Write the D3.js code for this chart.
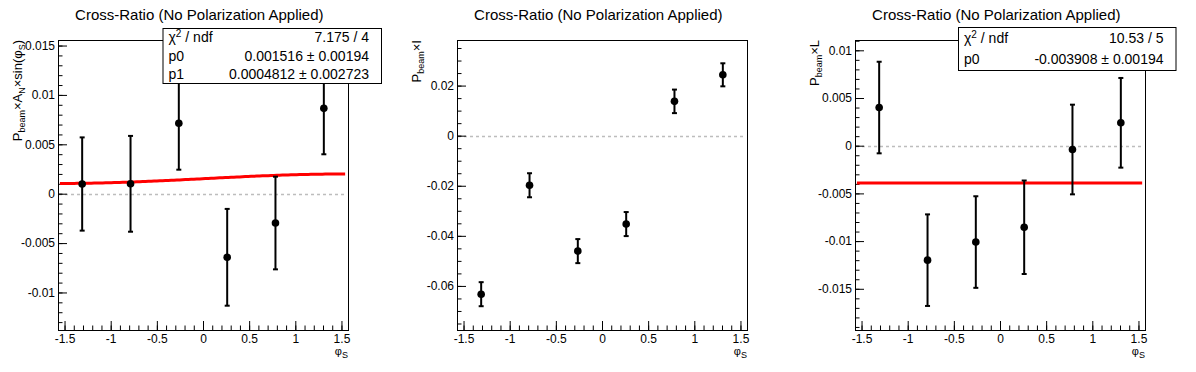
<!DOCTYPE html>
<html>
<head>
<meta charset="utf-8">
<script src="https://cdn.jsdelivr.net/npm/d3@7"></script>
<style>
body { margin: 0; background: #fff; }
svg { display: block; }
text { font-family: "Liberation Sans", Arial, Helvetica, sans-serif; fill: #000; }
</style>
</head>
<body>
<svg id="chart" width="1196" height="372"></svg>
<script>

// bin centres in phi_S
var phiS = [-1.309, -0.785, -0.262, 0.262, 0.785, 1.309];

// P_beam x A_N x sin(phi_S)
var anVal = [0.00098, 0.00100, 0.00713, -0.00644, -0.00297, 0.00864];
var anErr = [0.00472, 0.00485, 0.00470, 0.00490, 0.00469, 0.00465];

// P_beam x I
var iVal = [-0.0633, -0.0198, -0.0461, -0.0353, 0.0137, 0.0243];
var iErr = [0.0048, 0.0048, 0.0048, 0.0048, 0.0047, 0.0046];

// P_beam x L
var lVal = [0.0040, -0.0120, -0.0101, -0.00855, -0.0004, 0.0024];
var lErr = [0.0048, 0.0048, 0.0048, 0.0049, 0.0047, 0.0047];

// fit results
var fitAN = {p0: 0.001516, p1: 0.0004812};
var fitL = {p0: -0.003908};

var xRange = [-Math.PI / 2, Math.PI / 2];
var xMajor = [-1.5, -1, -0.5, 0, 0.5, 1, 1.5];

var yRange1 = [-0.0138, 0.01556];
var yMajor1 = [-0.01, -0.005, 0, 0.005, 0.01, 0.015];
var yRange2 = [-0.0776, 0.0382];
var yMajor2 = [-0.06, -0.04, -0.02, 0, 0.02];
var yRange3 = [-0.01932, 0.01108];
var yMajor3 = [-0.015, -0.01, -0.005, 0, 0.005, 0.01];

var titleText = "Cross-Ratio (No Polarization Applied)";

var panels = [
	{vals: anVal, errs: anErr, yRange: yRange1, yMajor: yMajor1, yMinorStep: 0.001,
	 ylabel: [["P"], ["beam", 1], ["\u00d7A"], ["N", 1], ["\u00d7sin(\u03c6"], ["S", 1], [")"]],
	 fit: function(x) { return fitAN.p0 + fitAN.p1 * Math.sin(x); },
	 stats: [["7.175 / 4"], ["p0", "0.001516 \u00b1 0.00194"], ["p1", "0.0004812 \u00b1 0.002723"]],
	 box: {x: 162.5, y: 28, w: 218.5, h: 55}},
	{vals: iVal, errs: iErr, yRange: yRange2, yMajor: yMajor2, yMinorStep: 0.005,
	 ylabel: [["P"], ["beam", 1], ["\u00d7I"]],
	 fit: null, stats: null},
	{vals: lVal, errs: lErr, yRange: yRange3, yMajor: yMajor3, yMinorStep: 0.001,
	 ylabel: [["P"], ["beam", 1], ["\u00d7L"]],
	 fit: function(x) { return fitL.p0; },
	 stats: [["10.53 / 5"], ["p0", "-0.003908 \u00b1 0.00194"]],
	 box: {x: 161, y: 27, w: 217.5, h: 43}}
];

var svg = d3.select("#chart");
var panelW = 1196 / 3;
var fLeft = 58, fRight = 348, fTop = 40, fBottom = 330;

function fmt(v) {
	var s = String(+v.toFixed(6));
	return s === "-0" ? "0" : s;
}

function range(a, b, step) {
	var out = [];
	var n0 = Math.ceil(a / step - 1e-6), n1 = Math.floor(b / step + 1e-6);
	for (var n = n0; n <= n1; n++) out.push(+(n * step).toFixed(6));
	return out;
}

panels.forEach(function(p, i) {

	var g = svg.append("g").attr("transform", "translate(" + Math.round(i * panelW) + ",0)");

	var x = d3.scaleLinear().domain(xRange).range([fLeft, fRight]);
	var y = d3.scaleLinear().domain(p.yRange).range([fBottom, fTop]);

	// title
	g.append("text")
		.attr("x", panelW / 2)
		.attr("y", 20)
		.attr("text-anchor", "middle")
		.style("font-size", "15px")
		.text(titleText);

	// zero line
	g.append("line")
		.attr("x1", fLeft + 1).attr("x2", fRight - 1)
		.attr("y1", Math.round(y(0)) + 0.5).attr("y2", Math.round(y(0)) + 0.5)
		.attr("stroke", "#bdbdbd")
		.attr("stroke-width", 1.5)
		.attr("stroke-dasharray", "3,3");

	// axes
	var xAxis = g.append("g").attr("transform", "translate(0," + fBottom + ")")
		.call(d3.axisBottom(x).tickValues(xMajor).tickSize(-9).tickPadding(4).tickFormat(fmt));
	var xMinor = g.append("g").attr("transform", "translate(0," + fBottom + ")")
		.call(d3.axisBottom(x).tickValues(range(xRange[0], xRange[1], 0.1)).tickSize(-4.5).tickFormat(""));
	var yAxis = g.append("g").attr("transform", "translate(" + fLeft + ",0)")
		.call(d3.axisLeft(y).tickValues(p.yMajor).tickSize(-9).tickPadding(3).tickFormat(fmt));
	var yMinor = g.append("g").attr("transform", "translate(" + fLeft + ",0)")
		.call(d3.axisLeft(y).tickValues(range(p.yRange[0], p.yRange[1], p.yMinorStep)).tickSize(-4.5).tickFormat(""));

	[xAxis, xMinor, yAxis, yMinor].forEach(function(a) {
		a.select(".domain").remove();
		a.selectAll("line").attr("stroke", "#000").attr("stroke-width", 1);
		a.selectAll("text").style("font-size", "12px").attr("fill", "#000");
	});

	// frame
	g.append("rect")
		.attr("x", fLeft + 0.5).attr("y", fTop + 0.5)
		.attr("width", fRight - fLeft).attr("height", fBottom - fTop)
		.attr("fill", "none").attr("stroke", "#000").attr("stroke-width", 1);

	// fit curve
	if (p.fit) {
		var xs = d3.range(0, 101).map(function(k) { return -1.55 + k * (3.09 / 100); });
		g.append("path")
			.datum(xs)
			.attr("fill", "none")
			.attr("stroke", "#ff0000")
			.attr("stroke-width", 3)
			.attr("d", d3.line().x(function(d) { return x(d); }).y(function(d) { return y(p.fit(d)); }));
	}

	// data points with error bars
	var pts = phiS.map(function(d, k) { return {x: d, v: p.vals[k], e: p.errs[k]}; });

	var pg = g.selectAll(".pt").data(pts).enter().append("g").attr("class", "pt");

	pg.append("line")
		.attr("x1", function(d) { return x(d.x); })
		.attr("x2", function(d) { return x(d.x); })
		.attr("y1", function(d) { return y(d.v + d.e); })
		.attr("y2", function(d) { return y(d.v - d.e); })
		.attr("stroke", "#000").attr("stroke-width", 2);

	[1, -1].forEach(function(s) {
		pg.append("line")
			.attr("x1", function(d) { return x(d.x) - 2.5; })
			.attr("x2", function(d) { return x(d.x) + 2.5; })
			.attr("y1", function(d) { return y(d.v + s * d.e); })
			.attr("y2", function(d) { return y(d.v + s * d.e); })
			.attr("stroke", "#000").attr("stroke-width", 2);
	});

	pg.append("circle")
		.attr("cx", function(d) { return x(d.x); })
		.attr("cy", function(d) { return y(d.v); })
		.attr("r", 3.8)
		.attr("fill", "#000");

	// y axis title
	var yl = g.append("text")
		.attr("transform", "translate(22," + fTop + ") rotate(-90)")
		.attr("text-anchor", "end")
		.style("font-size", "13px");
	var shifted = false;
	p.ylabel.forEach(function(part) {
		var t = yl.append("tspan").text(part[0]);
		if (part[1]) {
			t.style("font-size", "9px").attr("dy", shifted ? 0 : 3);
			shifted = true;
		} else if (shifted) {
			t.attr("dy", -3);
			shifted = false;
		}
	});

	// x axis title
	var xl = g.append("text")
		.attr("x", fRight)
		.attr("y", 355)
		.attr("text-anchor", "end")
		.style("font-size", "11px");
	xl.append("tspan").text("\u03c6");
	xl.append("tspan").attr("dy", 3).style("font-size", "9px").text("S");

	// stats box
	if (p.stats) {
		var b = p.box;
		var sg = g.append("g");
		sg.append("rect")
			.attr("x", b.x + 0.5).attr("y", b.y + 0.5)
			.attr("width", b.w).attr("height", b.h)
			.attr("fill", "#fff").attr("stroke", "#000").attr("stroke-width", 1);
		var rowH = b.h / p.stats.length;
		p.stats.forEach(function(row, r) {
			var cy = b.y + rowH * (r + 0.5) + 5;
			var lt = sg.append("text")
				.attr("x", b.x + 6).attr("y", cy)
				.style("font-size", "14px");
			if (r === 0) {
				lt.append("tspan").text("\u03c7");
				lt.append("tspan").attr("dy", -5).style("font-size", "10px").text("2");
				lt.append("tspan").attr("dy", 5).text(" / ndf");
			} else {
				lt.text(row[0]);
			}
			sg.append("text")
				.attr("x", b.x + b.w - 12).attr("y", cy)
				.attr("text-anchor", "end")
				.style("font-size", "14px")
				.text(r === 0 ? row[0] : row[1]);
		});
	}
});

</script>
</body>
</html>
